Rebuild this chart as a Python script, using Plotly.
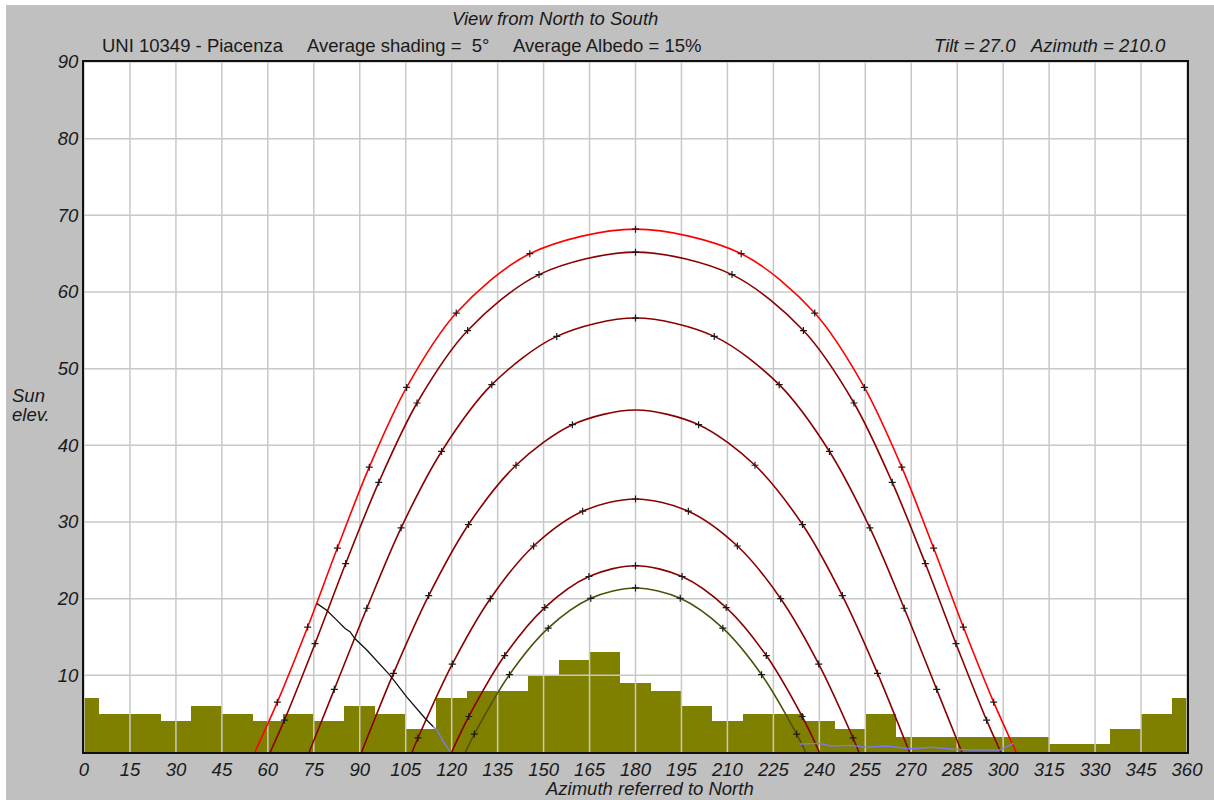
import plotly.graph_objects as go

# ---------------- data ----------------
x_ticks = [0, 15, 30, 45, 60, 75, 90, 105, 120, 135, 150, 165, 180, 195, 210,
           225, 240, 255, 270, 285, 300, 315, 330, 345, 360]
y_ticks = [10, 20, 30, 40, 50, 60, 70, 80, 90]

# horizon shading profile (10 deg sectors, centre azimuth -> elevation)
shade_az = [0, 10, 20, 30, 40, 50, 60, 70, 80, 90, 100, 110, 120, 130, 140, 150,
            160, 170, 180, 190, 200, 210, 220, 230, 240, 250, 260, 270, 280, 290,
            300, 310, 320, 330, 340, 350, 360]
shade_el = [7, 5, 5, 4, 6, 5, 4, 5, 4, 6, 5, 3, 7, 8, 8, 10,
            12, 13, 9, 8, 6, 4, 5, 5, 4, 3, 5, 2, 2, 2,
            2, 2, 1, 1, 3, 5, 7]

# sun paths (azimuth, elevation), sunrise -> sunset, hourly points
jun_az = [55.8, 63.1, 73.0, 82.7, 93.1, 105.3, 121.5, 145.5, 180.0, 214.5, 238.5, 254.7, 266.9, 277.3, 287.0, 296.9, 304.2]
jun_el = [0.0, 6.5, 16.3, 26.6, 37.15, 47.55, 57.25, 65.0, 68.2, 65.0, 57.25, 47.55, 37.15, 26.6, 16.3, 6.5, 0.0]

may_az = [60.8, 65.4, 75.4, 85.4, 96.2, 108.7, 125.2, 148.5, 180.0, 211.5, 234.8, 251.3, 263.8, 274.6, 284.6, 294.6, 299.2]
may_el = [0.0, 4.15, 14.13, 24.58, 35.17, 45.52, 54.97, 62.27, 65.2, 62.27, 54.97, 45.52, 35.17, 24.58, 14.13, 4.15, 0.0]

apr_az = [73.5, 81.7, 92.3, 103.5, 116.7, 133.1, 154.3, 180.0, 205.7, 226.9, 243.3, 256.5, 267.7, 278.3, 286.5]
apr_el = [0.0, 8.17, 18.75, 29.24, 39.2, 47.91, 54.21, 56.6, 54.21, 47.91, 39.2, 29.24, 18.75, 8.17, 0.0]

mar_az = [90.6, 101.0, 112.5, 125.5, 141.0, 159.4, 180.0, 200.6, 219.0, 234.5, 247.5, 259.0, 269.4]
mar_el = [0.0, 10.26, 20.4, 29.67, 37.4, 42.69, 44.6, 42.69, 37.4, 29.67, 20.4, 10.26, 0.0]

feb_az = [107.1, 109.0, 120.2, 132.6, 146.75, 162.75, 180.0, 197.25, 213.25, 227.4, 239.8, 251.0, 252.9]
feb_el = [0.0, 1.83, 11.47, 20.0, 26.87, 31.41, 33.0, 31.41, 26.87, 20.0, 11.47, 1.83, 0.0]

jan_az = [120.0, 125.6, 137.3, 150.4, 164.8, 180.0, 195.2, 209.6, 222.7, 234.4, 240.0]
jan_el = [0.0, 4.63, 12.58, 18.84, 22.89, 24.3, 22.89, 18.84, 12.58, 4.63, 0.0]

dec_az = [124.5, 127.4, 138.85, 151.5, 165.4, 180.0, 194.6, 208.5, 221.15, 232.6, 235.5]
dec_el = [0.0, 2.34, 10.08, 16.15, 20.05, 21.4, 20.05, 16.15, 10.08, 2.34, 0.0]

# module shadow limit lines
shadow_az = [75.94, 79.2, 82.5, 85.2, 86.8, 88.4, 92.3, 99.9, 105.3, 111.3, 114.0]
shadow_el = [19.39, 18.5, 17.2, 16.1, 15.7, 14.8, 13.3, 10.0, 7.2, 4.4, 3.3]
lim1_az = [114.0, 115.1, 117.3, 119.5]
lim1_el = [3.3, 2.9, 1.35, 0.05]
lim2_az = [233.6, 240.2, 243.5, 250.0, 255.4, 262.0, 269.6, 277.2, 283.7, 290.2, 299.0, 303.3]
lim2_el = [1.04, 1.13, 0.78, 0.87, 0.61, 0.78, 0.43, 0.61, 0.35, 0.26, 0.26, 1.13]

# ---------------- figure ----------------
OFF_X, OFF_Y = 6, 5          # page offset of the figure (white strip left/top)
W, H = 1214 - OFF_X, 800 - OFF_Y
ML, MR, MT, MB = 84 - OFF_X, 27, 62 - OFF_Y, 48
PW, PH = W - ML - MR, H - MT - MB

def px(xp):                   # page pixel -> paper x
    return (xp - OFF_X - ML) / PW

def py(yp):                   # page pixel -> paper y
    return (H - MB - (yp - OFF_Y)) / PH

fig = go.Figure()

fig.add_trace(go.Bar(x=shade_az, y=shade_el, width=10,
                     marker=dict(color="#808000", line=dict(width=0)),
                     hoverinfo="skip", showlegend=False))

# grid drawn over the shading bars
gx, gy = [], []
for v in x_ticks:
    gx += [v, v, None]
    gy += [0, 90, None]
for v in y_ticks:
    gx += [0, 360, None]
    gy += [v, v, None]
fig.add_trace(go.Scatter(x=gx, y=gy, mode="lines",
                         line=dict(color="#c8c8c8", width=1.5),
                         hoverinfo="skip", showlegend=False))

curves = [
    (jun_az, jun_el, "#ff0000", True),
    (may_az, may_el, "#8a0000", True),
    (apr_az, apr_el, "#8a0000", True),
    (mar_az, mar_el, "#8a0000", False),
    (feb_az, feb_el, "#8a0000", True),
    (jan_az, jan_el, "#8a0000", True),
    (dec_az, dec_el, "#50500a", True),
]
for az, el, col, noon_mark in curves:
    fig.add_trace(go.Scatter(x=az, y=el, mode="lines",
                             line=dict(color=col, width=1.6, shape="spline", smoothing=0.9),
                             hoverinfo="skip", showlegend=False))
    mx = [a for i, a in enumerate(az) if 0 < i < len(az) - 1 and (noon_mark or a != 180.0)]
    my = [e for i, (a, e) in enumerate(zip(az, el)) if 0 < i < len(az) - 1 and (noon_mark or a != 180.0)]
    fig.add_trace(go.Scatter(x=mx, y=my, mode="markers",
                             marker=dict(symbol="cross-thin", size=5,
                                         line=dict(color="#1a1a1a", width=1.2)),
                             hoverinfo="skip", showlegend=False))

fig.add_trace(go.Scatter(x=shadow_az, y=shadow_el, mode="lines",
                         line=dict(color="#111111", width=1.3),
                         hoverinfo="skip", showlegend=False))
fig.add_trace(go.Scatter(x=lim1_az, y=lim1_el, mode="lines",
                         line=dict(color="#7a7af0", width=1.4),
                         hoverinfo="skip", showlegend=False))
fig.add_trace(go.Scatter(x=lim2_az, y=lim2_el, mode="lines",
                         line=dict(color="#7a7af0", width=1.4),
                         hoverinfo="skip", showlegend=False))

FONT = "Liberation Sans, Arial, sans-serif"
TXT = "#1a1a1a"
FS = 18.5

fig.update_layout(
    width=W, height=H,
    margin=dict(l=ML, r=MR, t=MT, b=MB, pad=0),
    paper_bgcolor="#c0c0c0",
    plot_bgcolor="#ffffff",
    bargap=0,
    showlegend=False,
    font=dict(family=FONT, size=FS, color=TXT),
    xaxis=dict(range=[0, 360], tickvals=x_ticks, ticktext=[str(v) for v in x_ticks],
               showgrid=False, zeroline=False, showline=True, linecolor="#101010",
               linewidth=2, mirror=True, ticks="",
               tickfont=dict(family=FONT, size=FS, color=TXT, style="italic")),
    yaxis=dict(range=[0, 90], tickvals=y_ticks, ticktext=[str(v) for v in y_ticks],
               showgrid=False, zeroline=False, showline=True, linecolor="#101010",
               linewidth=2, mirror=True, ticks="",
               tickfont=dict(family=FONT, size=FS, color=TXT, style="italic")),
)

def ann(text, x, y, xa="left", italic=False):
    fig.add_annotation(text=text, x=px(x), y=py(y), xref="paper", yref="paper",
                       xanchor=xa, yanchor="middle", showarrow=False,
                       font=dict(family=FONT, size=FS, color=TXT,
                                 style="italic" if italic else "normal"))

ann("View from North to South", 555, 19, "center", True)
ann("UNI 10349 - Piacenza", 100, 46)
ann("Average shading =\u00a0\u00a05°", 305, 46)
ann("Average Albedo = 15%", 511, 46)
ann("Tilt = 27.0\u00a0\u00a0\u00a0Azimuth = 210.0", 1168, 46, "right", True)
ann("Sun", 10, 395, "left", True)
ann("elev.", 10, 414, "left", True)
ann("Azimuth referred to North", 649, 788, "center", True)

fig.write_html(
    "out.html",
    post_script="document.body.style.margin='%dpx 0 0 %dpx';"
                "document.body.style.overflow='hidden';" % (OFF_Y, OFF_X),
)
